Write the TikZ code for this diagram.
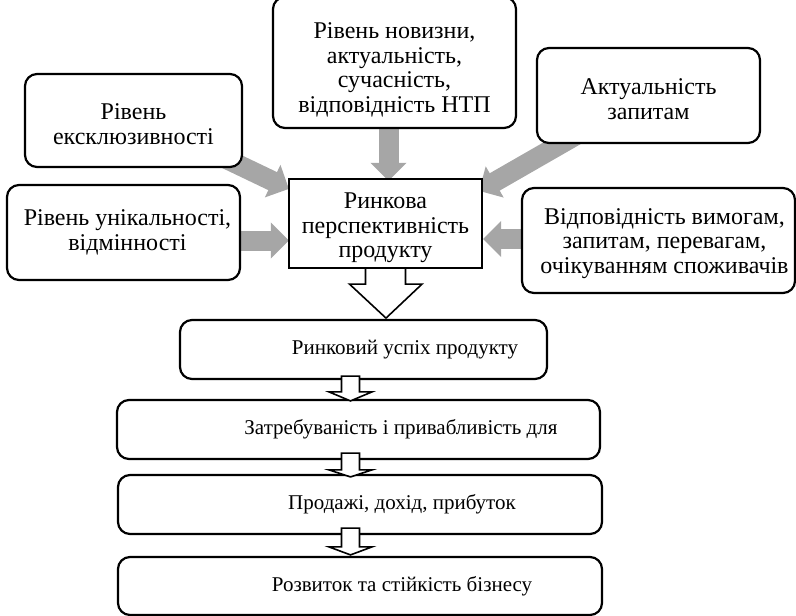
\documentclass[tikz,border=0pt]{standalone}
\usepackage{fontspec}
\setmainfont{Liberation Serif}
\usetikzlibrary{calc,arrows.meta}
\definecolor{arrgray}{RGB}{166,166,166}
\tikzset{
  basebox/.style={draw=black, line width=2.2pt, fill=white, inner sep=0pt, align=center},
  rbox/.style={basebox, rounded corners=12pt, font=\fontsize{24}{24.5}\selectfont},
  lbox/.style={basebox, rounded corners=12pt, font=\fontsize{21}{24.2}\selectfont},
  sbox/.style={basebox, font=\fontsize{24}{24.5}\selectfont},
  garrow/.style={draw=arrgray, line width=20pt, -{Triangle[width=35pt,length=18pt]}, arrgray},
  warrow/.style={draw=black, line width=1.6pt, fill=white, line join=miter},
}
\begin{document}
\begin{tikzpicture}[x=1pt,y=-1pt]
\useasboundingbox (0,0) rectangle (796,616);
% anchor boxes (invisible) used by the gray arrows
\node[basebox, draw=none, fill=none, minimum width=217pt, minimum height=93pt] (excl) at (133.5,120.5) {};
\node[basebox, draw=none, fill=none, minimum width=233pt, minimum height=95pt] (unik) at (123.5,232.5) {};
\node[basebox, draw=none, fill=none, minimum width=243pt, minimum height=131pt] (nov) at (394.5,62.5) {};
\node[basebox, draw=none, fill=none, minimum width=223pt, minimum height=95pt] (akt) at (648.5,95.5) {};
\node[basebox, draw=none, fill=none, minimum width=273pt, minimum height=105pt] (vid) at (658.5,240.5) {};
\node[basebox, draw=none, fill=none, minimum width=193pt, minimum height=89pt] (cen) at (385.5,223.5) {};
% gray arrows (behind the boxes)
\draw[garrow] ($(excl.south east)+(-29,-15)$) -- ($(cen.north west)+(1,11)$);
\draw[garrow] ($(unik.east)+(-10,8)$) -- ($(cen.west)+(1,17)$);
\draw[garrow] ($(nov.south)+(-6,-10)$) -- ($(cen.north)+(3,3)$);
\draw[garrow] ($(akt.south)+(-70.5,-10)$) -- ($(cen.north east)+(-4,13)$);
\draw[garrow] ($(vid.west)+(10,-1.5)$) -- ($(cen.east)+(0,15.5)$);
% visible boxes
\node[rbox, minimum width=217pt, minimum height=93pt] (exclb) at (excl) {\rule{0pt}{23pt}Рівень\\ексклюзивності};
\node[rbox, minimum width=233pt, minimum height=95pt] (unikb) at (unik) {\hspace*{8pt}Рівень унікальності,\\\hspace*{8pt}відмінності};
\node[rbox, minimum width=243pt, minimum height=131pt] (novb) at (nov) {\rule{0pt}{31pt}Рівень новизни,\\актуальність,\\сучасність,\\відповідність НТП};
\node[rbox, minimum width=223pt, minimum height=95pt] (aktb) at (akt) {\rule{0pt}{23pt}Актуальність\\запитам};
\node[rbox, minimum width=273pt, minimum height=105pt] (vidb) at (vid) {\rule{0pt}{22pt}\hspace*{12pt}Відповідність вимогам,\\\hspace*{12pt}запитам, перевагам,\\\hspace*{12pt}очікуванням споживачів};
\node[sbox, minimum width=193pt, minimum height=89pt] (cenb) at (cen) {\rule{0pt}{25pt}Ринкова\\перспективність\\продукту};
% bottom chain
\node[lbox, minimum width=367pt, minimum height=59pt] (b1) at (363.5,349.5) {\hspace*{83pt}Ринковий успіх продукту};
\node[lbox, minimum width=483pt, minimum height=59pt] (b2) at (358.5,429.5) {\hspace*{85pt}Затребуваність і привабливість для};
\node[lbox, minimum width=484pt, minimum height=59pt] (b3) at (360,504.5) {\hspace*{84pt}Продажі, дохід, прибуток};
\node[lbox, minimum width=484pt, minimum height=58pt] (b4) at (360,586) {\hspace*{84pt}Розвиток та стійкість бізнесу};
% big white arrow
\filldraw[warrow] ($(cenb.south)+(-20,0)$) -- ($(cenb.south)+(-20,15)$) -- ($(cenb.south)+(-36,15)$) -- ($(cenb.south)+(0.5,49)$) -- ($(cenb.south)+(36.5,15)$) -- ($(cenb.south)+(20,15)$) -- ($(cenb.south)+(20,0)$);
% small white arrows
\coordinate (ax) at (350.5,0);
\filldraw[warrow] ($(ax|-b1.south)+(-9,-4)$) -- ($(ax|-b2.north)+(-9,-7)$) -- ($(ax|-b2.north)+(-21.5,-7)$) -- ($(ax|-b2.north)+(0,2)$) -- ($(ax|-b2.north)+(21.5,-7)$) -- ($(ax|-b2.north)+(9,-7)$) -- ($(ax|-b1.south)+(9,-4)$) -- cycle;
\filldraw[warrow] ($(ax|-b2.south)+(-9,-7)$) -- ($(ax|-b3.north)+(-9,-4)$) -- ($(ax|-b3.north)+(-21.5,-4)$) -- ($(ax|-b3.north)+(0,3)$) -- ($(ax|-b3.north)+(21.5,-4)$) -- ($(ax|-b3.north)+(9,-4)$) -- ($(ax|-b2.south)+(9,-7)$) -- cycle;
\filldraw[warrow] ($(ax|-b3.south)+(-9,-7)$) -- ($(ax|-b4.north)+(-9,-9)$) -- ($(ax|-b4.north)+(-21.5,-9)$) -- ($(ax|-b4.north)+(0,-1)$) -- ($(ax|-b4.north)+(21.5,-9)$) -- ($(ax|-b4.north)+(9,-9)$) -- ($(ax|-b3.south)+(9,-7)$) -- cycle;
\end{tikzpicture}
\end{document}
